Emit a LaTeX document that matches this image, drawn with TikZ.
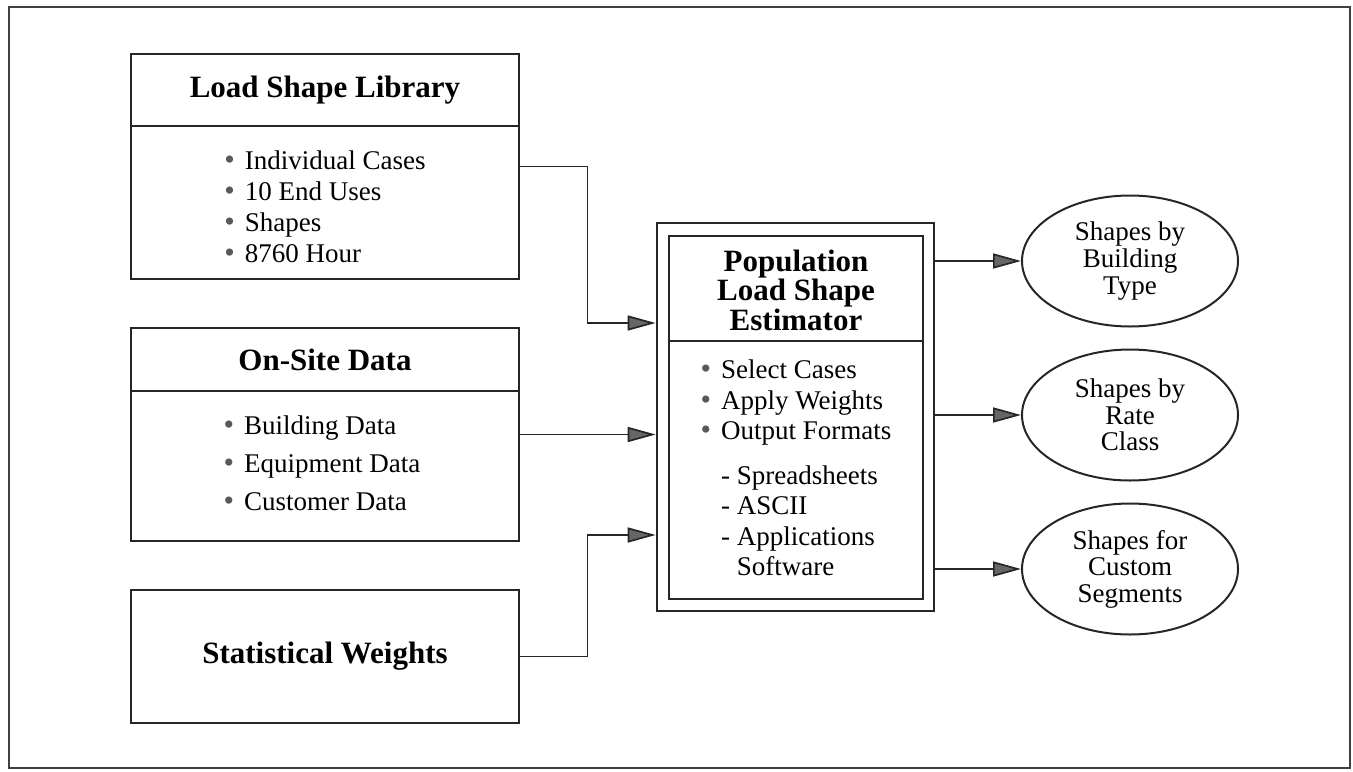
\documentclass[tikz,border=0pt]{standalone}
\usepackage{fontspec}
\setmainfont{Liberation Serif}
\usetikzlibrary{arrows.meta,shapes.geometric}

\def\outerframe{(9,7) rectangle (1350,768)}
\newcommand{\lsdot}{{\fontsize{15}{10}\selectfont\textcolor{black!65}{\textbullet}}\hspace{5pt}}

\tikzset{
    box/.style={draw=black!85, line width=1.4pt, minimum width=194pt},
    head/.style={draw=black!85, line width=1.4pt, minimum width=194pt, font=\fontsize{15.5}{15.5}\selectfont\bfseries},
    list/.style={align=left, inner sep=0pt, font=\fontsize{13.5}{#1}\selectfont},
    feed/.style={draw=black!85, line width=0.85pt, -{Triangle[length=14pt,width=7.5pt,fill=black!60]}},
    result/.style={ellipse, draw=black!85, line width=1pt, inner sep=0pt, minimum width=108pt, minimum height=65.5pt, align=center, font=\fontsize{13.5}{13.3}\selectfont},
}

\begin{document}
\begin{tikzpicture}[x=0.5pt, y=-0.5pt]
    \useasboundingbox (0,0) rectangle (1353,771);
    \draw[black!75, line width=1pt] \outerframe;

    \node[box, minimum height=112.5pt] (lsl) at (325,166.5) {};
    \node[head, minimum height=36pt, anchor=north] (lsl head) at (lsl.north) {Load Shape Library};
    \node[list=15.5pt] (lsl list) at (325,207) {\lsdot Individual Cases\\ \lsdot 10 End Uses\\ \lsdot Shapes\\ \lsdot 8760 Hour};

    \node[box, minimum height=106.5pt] (site) at (325,434.5) {};
    \node[head, minimum height=31.5pt, anchor=north] (site head) at (site.north) {On-Site Data};
    \node[list=19pt] (site list) at (322,463) {\lsdot Building Data\\ \lsdot Equipment Data\\ \lsdot Customer Data};

    \node[box, minimum height=66.5pt, font=\fontsize{15.5}{15.5}\selectfont\bfseries] (wts) at (325,656.5) {Statistical Weights};

    \node[box, minimum width=138.5pt, minimum height=194pt] (est) at (795.5,417) {};
    \node[box, minimum width=127pt, minimum height=181.5pt] (est in) at (796,417.5) {};
    \draw[black!85, line width=1.4pt] (est in.west |- 0,341) -- (est in.east |- 0,341);
    \node[align=center, font=\fontsize{15.5}{14.75}\selectfont\bfseries] (est head) at (796,290) {Population\\Load Shape\\Estimator};
    \node[list=15.25pt] (est list) at (796,468) {\lsdot Select Cases\\ \lsdot Apply Weights\\ \lsdot Output Formats\\[7pt]
        \phantom{\lsdot}- Spreadsheets\\ \phantom{\lsdot}- ASCII\\ \phantom{\lsdot}- Applications\\ \phantom{\lsdot- }Software};

    \node[result] (bytype) at (1130,261) {Shapes by\\Building\\Type};
    \node[result] (byrate) at (1130,415) {Shapes by\\Rate\\Class};
    \node[result] (bycustom) at (1130,569) {Shapes for\\Custom\\Segments};

    \draw[feed] (lsl.east) -- ++(67,0) |- (est.west |- 0,323);
    \draw[feed] (site.east) -- (est.west |- site.east);
    \draw[feed] (wts.east) -- ++(67,0) |- (est.west |- 0,535);

    \draw[feed] (est.east |- bytype.west) -- (bytype.west);
    \draw[feed] (est.east |- byrate.west) -- (byrate.west);
    \draw[feed] (est.east |- bycustom.west) -- (bycustom.west);
\end{tikzpicture}
\end{document}
